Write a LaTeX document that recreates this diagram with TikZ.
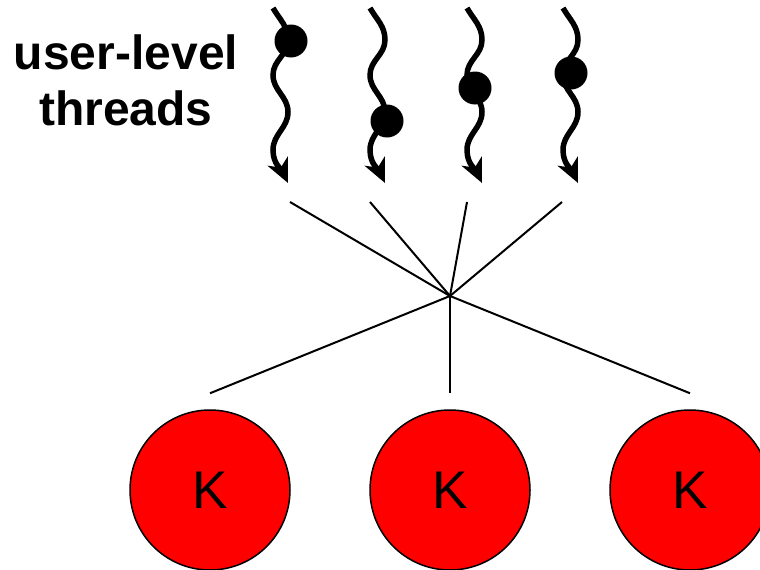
\documentclass[tikz,border=0pt]{standalone}
\usepackage{fontspec}
\setmainfont{Liberation Sans}
\usetikzlibrary{arrows.meta}

\begin{document}
\begin{tikzpicture}[x=1pt, y=-1pt,
        thread/.style={line width=5.5pt, -{Stealth[length=24pt,width=22pt,inset=7pt]}},
        ball/.style={circle, fill=black, inner sep=0pt, minimum size=33pt},
        kernel/.style={circle, draw, line width=1.5pt, fill=red, minimum size=160pt, inner sep=0pt, font=\fontsize{53}{60}\selectfont},
        link/.style={line width=2pt}]
    \useasboundingbox (0,0) rectangle (760,570);
    \clip (0,0) rectangle (760,570);
    \node[align=center, font=\bfseries\fontsize{48}{56}\selectfont] (label) at (126,80) {user-level\\threads};
    \foreach \x/\bx/\by [count=\i] in {273/291/41, 370/387/121, 467/475/88, 563/571/73} {
        \draw[thread] (\x,8) to[out=-60,in=90] ++(15,32) to[out=-90,in=90] ++(-15,35)
            to[out=-90,in=90] ++(15,37) to[out=-90,in=90] ++(-15,38) to[out=-90,in=115] ++(15,33);
        \node[ball] (b\i) at (\bx,\by) {};
    }
    \coordinate (hub) at (450,296);
    \foreach \x [count=\i] in {290,370,467,562}
        \coordinate (t\i) at (\x,202);
    \foreach \x [count=\i] in {210,450,690}
        \node[kernel] (k\i) at (\x,490) {K};
    \foreach \i in {1,...,4}
        \draw[link] (hub) -- (t\i);
    \foreach \i in {1,2,3}
        \draw[link] (hub) -- ([yshift=16pt]k\i.north);
\end{tikzpicture}
\end{document}
